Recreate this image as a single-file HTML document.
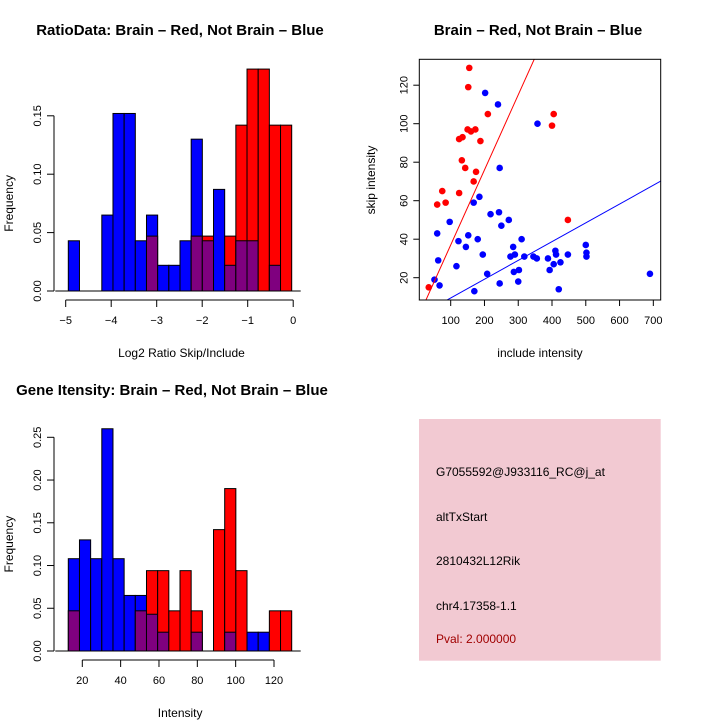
<!DOCTYPE html>
<html><head><meta charset="utf-8"><style>
body{margin:0;background:#fff}
svg{display:block;font-family:"Liberation Sans",sans-serif}
</style></head><body>
<svg id="s" width="720" height="720" xmlns="http://www.w3.org/2000/svg">
<g id="g1"></g>
<g id="g2"></g>
<g id="g3"></g>
<g>
<rect x="419" y="419" width="241.7" height="241.7" fill="#f2c9d2"/>
<text x="436" y="476" font-size="12">G7055592@J933116_RC@j_at</text>
<text x="436" y="521" font-size="12">altTxStart</text>
<text x="436" y="565" font-size="12">2810432L12Rik</text>
<text x="436" y="610" font-size="12">chr4.17358-1.1</text>
<text x="436" y="643" font-size="12" fill="#a00000">Pval: 2.000000</text>
</g>
</svg>
<script>
// Histogram 1 data
const ratioBlue=[0.043,0,0,0.065,0.152,0.152,0.043,0.065,0.022,0.022,0.043,0.130,0.043,0.087,0.022,0.043,0.043,0,0.022,0];
const ratioRed=[0,0,0,0,0,0,0,0.047,0,0,0,0.047,0.047,0,0.047,0.142,0.190,0.190,0.142,0.142];
const ratioXTicks=[-5,-4,-3,-2,-1,0];
const ratioYTicks=[0,0.05,0.10,0.15];
// Histogram 2 data
const intBlue=[0.108,0.130,0.108,0.260,0.108,0.065,0.065,0.043,0.022,0,0,0.022,0,0,0.022,0,0.022,0.022,0,0];
const intRed=[0.047,0,0,0,0,0,0.047,0.094,0.094,0.047,0.094,0.047,0,0.142,0.190,0.094,0,0,0.047,0.047];
const intXTicks=[20,40,60,80,100,120];
const intYTicks=[0,0.05,0.10,0.15,0.20,0.25];
// Scatter data
const redX=[35,60,75,85,125,125,133,135,143,150,152,155,160,173,175,168,188,210,400,405,447];
const redY=[15,58,65,59,64,92,81,93,77,97,119,129,96,97,75,70,91,105,99,105,50];
const blueX=[52,60,63,67,97,117,123,145,152,170,168,180,185,195,202,208,218,240,243,245,245,250,272,277,285,287,290,300,302,310,318,345,355,357,388,393,405,410,412,425,447,420,500,502,502,690];
const blueY=[19,43,29,16,49,26,39,36,42,13,59,40,62,32,116,22,53,110,54,17,77,47,50,31,36,23,32,18,24,40,31,31,30,100,30,24,27,34,32,28,32,14,37,33,31,22];
const redFit=[-2,0.39];
const blueFit=[-0.3,0.0976];
const scatXTicks=[100,200,300,400,500,600,700];
const scatYTicks=[20,40,60,80,100,120];

const NS="http://www.w3.org/2000/svg";
function mk(p,t,a){const e=document.createElementNS(NS,t);for(const k in a)e.setAttribute(k,a[k]);p.appendChild(e);return e;}

function hist(g,blue,red,x0,binW,sx,yZero,sy,xt,yt,axY,title,titleX,titleY,xlab,xlabY){
  const t=mk(g,'text',{x:titleX,y:titleY,'font-size':15,'font-weight':'bold','text-anchor':'middle'});t.textContent=title;
  
  
  for(let i=0;i<blue.length;i++){
    const b=blue[i],r=red[i];const x=x0+i*binW;
    const mx=Math.max(b,r),mn=Math.min(b,r);
    if(mx>0){const e=mk(g,'rect',{x:x,y:yZero-mx*sy,width:binW,height:mx*sy,fill:b>=r?'#0000ff':'#ff0000',stroke:'#000','stroke-width':1});
      
      }
    if(mn>0){const e=mk(g,'rect',{x:x,y:yZero-mn*sy,width:binW,height:mn*sy,fill:'#7f007f',stroke:'#000','stroke-width':1});
      
      }
  }
  mk(g,'line',{x1:x0-13,x2:x0+blue.length*binW+9,y1:yZero,y2:yZero,stroke:'#000'});
  const yx=54;
  mk(g,'line',{x1:yx,x2:yx,y1:yZero,y2:yZero-yt[yt.length-1]*sy,stroke:'#000'});
  yt.forEach(v=>{const y=yZero-v*sy;mk(g,'line',{x1:yx-7,x2:yx,y1:y,y2:y,stroke:'#000'});
    const l=mk(g,'text',{x:yx-13,y:y,'font-size':11,'text-anchor':'middle',transform:`rotate(-90 ${yx-13} ${y})`});l.textContent=v.toFixed(2);
    
    });
  const xs=xt.map(sx);
  mk(g,'line',{x1:xs[0],x2:xs[xs.length-1],y1:axY,y2:axY,stroke:'#000'});
  xt.forEach((v,i)=>{mk(g,'line',{x1:xs[i],x2:xs[i],y1:axY,y2:axY+7,stroke:'#000'});
    const l=mk(g,'text',{x:xs[i],y:axY+24,'font-size':11,'text-anchor':'middle'});l.textContent=v<0?'\u2212'+(-v):v;
    
    });
  const xl=mk(g,'text',{x:(xs[0]+xs[xs.length-1])/2+2,y:xlabY,'font-size':12,'text-anchor':'middle'});xl.textContent=xlab;
  
  
  const yl=mk(g,'text',{x:13,y:yZero-yt[yt.length-1]*sy/2,'font-size':12,'text-anchor':'middle',transform:`rotate(-90 13 ${yZero-yt[yt.length-1]*sy/2})`});yl.textContent='Frequency';
  
  
}
hist(document.getElementById('g1'),ratioBlue,ratioRed,68.3,11.17,v=>65.7+(v+5)*45.5,291,1168,ratioXTicks,ratioYTicks,300,'RatioData: Brain \u2013 Red, Not Brain \u2013 Blue',180,35,'Log2 Ratio Skip/Include',357);
hist(document.getElementById('g3'),intBlue,intRed,68.3,11.17,v=>82.3+(v-20)*1.917,651,854.8,intXTicks,intYTicks,660,'Gene Itensity: Brain \u2013 Red, Not Brain \u2013 Blue',172,395,'Intensity',717);

(function(){
  const g=document.getElementById('g2');
  const L=419.3,R=660.7,T=59.3,B=300;
  const sx=v=>450.7+(v-100)*0.3377, sy=v=>277.7-(v-20)*1.925;
  const t=mk(g,'text',{x:538,y:35,'font-size':15,'font-weight':'bold','text-anchor':'middle'});t.textContent='Brain \u2013 Red, Not Brain \u2013 Blue';
  
  
  const cp=mk(g,'clipPath',{id:'cp'});mk(cp,'rect',{x:L,y:T,width:R-L,height:B-T});
  const fit=(f,c)=>{const x1=0,x2=800;const e=mk(g,'line',{x1:sx(x1),y1:sy(f[0]+f[1]*x1),x2:sx(x2),y2:sy(f[0]+f[1]*x2),stroke:c,'clip-path':'url(#cp)'});
    
    };
  redX.forEach((v,i)=>{const c=mk(g,'circle',{cx:sx(v),cy:sy(redY[i]),r:3.3,fill:'#ff0000'});
    
    });
  blueX.forEach((v,i)=>{const c=mk(g,'circle',{cx:sx(v),cy:sy(blueY[i]),r:3.3,fill:'#0000ff'});
    
    });
  fit(redFit,'#ff0000');fit(blueFit,'#0000ff');
  mk(g,'rect',{x:L,y:T,width:R-L,height:B-T,fill:'none',stroke:'#000'});
  scatXTicks.forEach(v=>{const x=sx(v);mk(g,'line',{x1:x,x2:x,y1:B,y2:B+6,stroke:'#000'});
    const l=mk(g,'text',{x:x,y:B+24,'font-size':11,'text-anchor':'middle'});l.textContent=v;
    
    });
  scatYTicks.forEach(v=>{const y=sy(v);mk(g,'line',{x1:L-6,x2:L,y1:y,y2:y,stroke:'#000'});
    const l=mk(g,'text',{x:L-12,y:y,'font-size':11,'text-anchor':'middle',transform:`rotate(-90 ${L-12} ${y})`});l.textContent=v;
    
    });
  const xl=mk(g,'text',{x:540,y:357,'font-size':12,'text-anchor':'middle'});xl.textContent='include intensity';
  
  
  const yl=mk(g,'text',{x:375,y:180,'font-size':12,'text-anchor':'middle',transform:'rotate(-90 375 180)'});yl.textContent='skip intensity';
  
  
})();
</script>
</body></html>
